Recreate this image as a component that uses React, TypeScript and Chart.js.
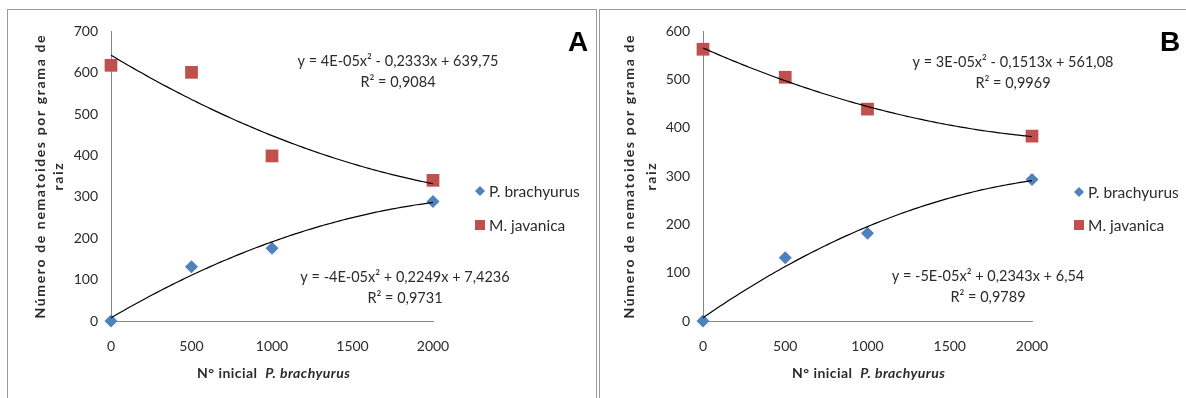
import React, { useEffect, useRef } from "react";
import { Chart, registerables } from "chart.js";

Chart.register(...registerables);

// ---- data ----
const xValues = [0, 500, 1000, 2000];
const pBrachyurusA = [0, 131, 176, 289];
const mJavanicaA = [618, 601, 399, 340];
const pBrachyurusB = [0, 131, 182, 293];
const mJavanicaB = [563, 505, 439, 383];

const seriesNames = ["P. brachyurus", "M. javanica"];
const eqA = ["y = 4E-05x² - 0,2333x + 639,75", "R² = 0,9084", "y = -4E-05x² + 0,2249x + 7,4236", "R² = 0,9731"];
const eqB = ["y = 3E-05x² - 0,1513x + 561,08", "R² = 0,9969", "y = -5E-05x² + 0,2343x + 6,54", "R² = 0,9789"];
const yTitleLines = ["Número de nematoides por grama de", "raiz"];
const xTitleParts = ["N° inicial  ", "P. brachyurus"];

const BLUE = "#4F81BD";
const RED = "#C0504D";
const FONT = "Lato";
const TXT = "#2b2b2b";

function quadFit(xs: number[], ys: number[]) {
  const xsS = xs.map((x) => x / 1000);
  const S = [0, 0, 0, 0, 0];
  const T = [0, 0, 0];
  xsS.forEach((x, i) => {
    for (let k = 0; k < 5; k++) S[k] += Math.pow(x, k);
    for (let k = 0; k < 3; k++) T[k] += ys[i] * Math.pow(x, k);
  });
  const M = [
    [S[0], S[1], S[2], T[0]],
    [S[1], S[2], S[3], T[1]],
    [S[2], S[3], S[4], T[2]],
  ];
  for (let c = 0; c < 3; c++) {
    for (let r = c + 1; r < 3; r++) {
      const f = M[r][c] / M[c][c];
      for (let k = c; k < 4; k++) M[r][k] -= f * M[c][k];
    }
  }
  const sol = [0, 0, 0];
  for (let r = 2; r >= 0; r--) {
    let s = M[r][3];
    for (let k = r + 1; k < 3; k++) s -= M[r][k] * sol[k];
    sol[r] = s / M[r][r];
  }
  return (x: number) => sol[0] + sol[1] * (x / 1000) + sol[2] * (x / 1000) * (x / 1000);
}

function trend(xs: number[], ys: number[]) {
  const f = quadFit(xs, ys);
  const pts: { x: number; y: number }[] = [];
  for (let x = 0; x <= 2000; x += 20) pts.push({ x, y: f(x) });
  return pts;
}

type Layout = {
  yMax: number;
  padRight: number;
  yTitle: [number, number, number];
  xTitle: [number, number];
  eqPos: [number, number, number, number];
  letter: string;
  letterPos: [number, number];
  legend: [number, number, number];
};

function spacingFor(ctx: CanvasRenderingContext2D, text: string, target: number) {
  (ctx as any).letterSpacing = "0px";
  const w = ctx.measureText(text).width;
  return Math.max(0, (target - w) / Math.max(1, text.length - 1));
}

function makeTextPlugin(eq: string[], L: Layout) {
  return {
    id: "texts",
    afterDraw(chart: any) {
      const ctx = chart.ctx as CanvasRenderingContext2D;
      const c: any = ctx;
      ctx.save();
      ctx.fillStyle = TXT;
      ctx.textBaseline = "middle";
      // y title
      ctx.save();
      ctx.font = `bold 14px ${FONT}`;
      const ls = spacingFor(ctx, yTitleLines[0], 283);
      c.letterSpacing = ls + "px";
      ctx.textAlign = "center";
      ctx.translate(L.yTitle[0], L.yTitle[2]);
      ctx.rotate(-Math.PI / 2);
      ctx.fillText(yTitleLines[0], ls / 2, 0);
      ctx.fillText(yTitleLines[1], ls / 2, L.yTitle[1] - L.yTitle[0]);
      ctx.restore();
      // x title
      ctx.save();
      ctx.font = `bold 14px ${FONT}`;
      const w1 = ctx.measureText(xTitleParts[0]).width;
      ctx.font = `italic bold 14px ${FONT}`;
      const w2 = ctx.measureText(xTitleParts[1]).width;
      const n = xTitleParts[0].length + xTitleParts[1].length;
      const xs = Math.max(0, (153 - w1 - w2) / (n - 1));
      c.letterSpacing = xs + "px";
      const x0 = L.xTitle[0] - 76;
      ctx.textAlign = "left";
      ctx.font = `bold 14px ${FONT}`;
      ctx.fillText(xTitleParts[0], x0, L.xTitle[1]);
      ctx.font = `italic bold 14px ${FONT}`;
      ctx.fillText(xTitleParts[1], x0 + w1 + xTitleParts[0].length * xs, L.xTitle[1]);
      ctx.restore();
      // equations
      ctx.font = `14.5px ${FONT}`;
      ctx.textAlign = "center";
      ctx.fillText(eq[0], L.eqPos[0], L.eqPos[1]);
      ctx.fillText(eq[1], L.eqPos[0], L.eqPos[1] + 21);
      ctx.fillText(eq[2], L.eqPos[2], L.eqPos[3]);
      ctx.fillText(eq[3], L.eqPos[2], L.eqPos[3] + 21);
      // letter
      ctx.fillStyle = "#000";
      ctx.font = `bold 28px "Liberation Sans"`;
      ctx.fillText(L.letter, L.letterPos[0], L.letterPos[1]);
      // legend
      const [lx, ly1, ly2] = L.legend;
      ctx.fillStyle = BLUE;
      ctx.beginPath();
      ctx.moveTo(lx, ly1 - 5);
      ctx.lineTo(lx + 5, ly1);
      ctx.lineTo(lx, ly1 + 5);
      ctx.lineTo(lx - 5, ly1);
      ctx.closePath();
      ctx.fill();
      ctx.fillStyle = RED;
      ctx.fillRect(lx - 5, ly2 - 5, 10, 10);
      ctx.fillStyle = TXT;
      ctx.textAlign = "left";
      ctx.font = `15.5px ${FONT}`;
      ctx.fillText(seriesNames[0], lx + 9, ly1 + 1);
      ctx.fillText(seriesNames[1], lx + 9, ly2 + 1);
      ctx.restore();
    },
  };
}

function ScatterPanel(props: {
  pb: number[];
  mj: number[];
  eq: string[];
  L: Layout;
  left: number;
  width: number;
}) {
  const ref = useRef<HTMLCanvasElement>(null);
  useEffect(() => {
    const { pb, mj, eq, L } = props;
    const chart = new Chart(ref.current!, {
      type: "scatter",
      data: {
        datasets: [
          {
            type: "line",
            data: trend(xValues, mj),
            borderColor: "#000",
            borderWidth: 1.2,
            pointRadius: 0,
            fill: false,
            clip: false,
            order: 0,
          } as any,
          {
            type: "line",
            data: trend(xValues, pb),
            borderColor: "#000",
            borderWidth: 1.2,
            pointRadius: 0,
            fill: false,
            clip: false,
            order: 0,
          } as any,
          {
            label: seriesNames[0],
            data: xValues.map((x, i) => ({ x, y: pb[i] })),
            backgroundColor: BLUE,
            borderColor: BLUE,
            pointStyle: "rectRot",
            pointRadius: 6.5,
            borderWidth: 0,
            clip: false,
            order: 1,
          } as any,
          {
            label: seriesNames[1],
            data: xValues.map((x, i) => ({ x, y: mj[i] })),
            backgroundColor: RED,
            borderColor: RED,
            pointStyle: "rect",
            pointRadius: 9,
            borderWidth: 0,
            clip: false,
            order: 1,
          } as any,
        ],
      },
      options: {
        animation: false,
        responsive: false,
        maintainAspectRatio: false,
        layout: { padding: { left: 0, top: 20, right: L.padRight, bottom: 0 } },
        plugins: { legend: { display: false }, tooltip: { enabled: false } },
        scales: {
          x: {
            type: "linear",
            min: 0,
            max: 2000,
            grid: { display: false, drawTicks: false },
            border: { display: true, color: "#868686", width: 1 },
            ticks: {
              stepSize: 500,
              padding: 17,
              color: TXT,
              font: { family: FONT, size: 14 },
              callback: (v: any) => String(v),
            },
            afterFit: (s: any) => {
              s.height = 77;
            },
          },
          y: {
            min: 0,
            max: L.yMax,
            grid: { display: false, drawTicks: false },
            border: { display: true, color: "#868686", width: 1 },
            ticks: {
              stepSize: 100,
              padding: 13,
              color: TXT,
              font: { family: FONT, size: 14 },
              callback: (v: any) => String(v),
            },
            afterFit: (s: any) => {
              s.width = 103;
            },
          },
        },
      },
      plugins: [makeTextPlugin(eq, L)],
    });
    return () => chart.destroy();
  }, []);
  return (
    <canvas
      ref={ref}
      width={props.width}
      height={388}
      style={{ position: "absolute", left: props.left, top: 10, width: props.width, height: 388 }}
    />
  );
}

const layoutA: Layout = {
  yMax: 700,
  padRight: 162,
  yTitle: [32, 50, 167],
  xTitle: [265, 363],
  eqPos: [390, 51, 397, 267],
  letter: "A",
  letterPos: [570, 33],
  legend: [472, 181, 215],
};
const layoutB: Layout = {
  yMax: 600,
  padRight: 154,
  yTitle: [29, 51, 167],
  xTitle: [268, 363],
  eqPos: [413, 52, 388, 266],
  letter: "B",
  letterPos: [570, 33],
  legend: [479, 182, 215],
};

export default function App() {
  return (
    <div style={{ position: "absolute", left: 0, top: 0, width: 1186, height: 398, overflow: "hidden", background: "#fff" }}>
      <div style={{ position: "absolute", left: 7, top: 9, width: 588, height: 420, border: "1px solid #9a9a9a" }} />
      <div style={{ position: "absolute", left: 599, top: 9, width: 620, height: 420, border: "1px solid #9a9a9a" }} />
      <ScatterPanel pb={pBrachyurusA} mj={mJavanicaA} eq={eqA} L={layoutA} left={8} width={587} />
      <ScatterPanel pb={pBrachyurusB} mj={mJavanicaB} eq={eqB} L={layoutB} left={600} width={586} />
    </div>
  );
}
